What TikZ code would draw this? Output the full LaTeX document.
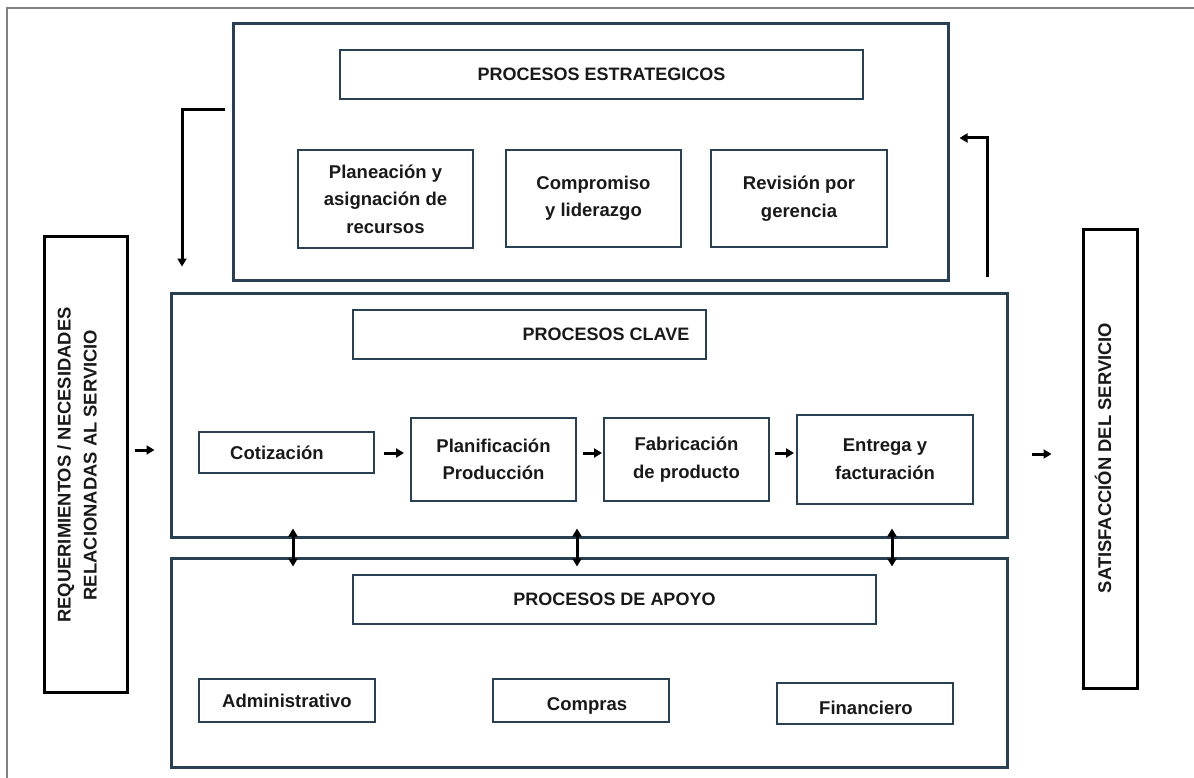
\documentclass[tikz,border=0pt]{standalone}
\usepackage{fontspec}
\setmainfont{Liberation Sans}
\usetikzlibrary{arrows.meta,calc}
\definecolor{bx}{RGB}{40,64,82}
\definecolor{tx}{RGB}{25,25,25}
\definecolor{fr}{RGB}{128,128,128}
\begin{document}
\begin{tikzpicture}[x=1pt,y=-1pt,
  sz/.style 2 args={minimum width=#1pt,minimum height=#2pt},
  bigbox/.style={draw=bx,line width=3pt,inner sep=0pt},
  box/.style={draw=bx,line width=2pt,inner sep=0pt,align=center,text=tx,font=\fontsize{18.5}{27.5}\selectfont\bfseries},
  ttl/.style={box,font=\fontsize{18}{27}\selectfont\bfseries},
  side/.style={draw=black,line width=3pt,inner sep=0pt},
  lbl/.style={inner sep=0pt,align=center,text=tx,font=\fontsize{18.5}{27.5}\selectfont\bfseries},
  tlbl/.style={lbl,font=\fontsize{18}{27}\selectfont\bfseries},
  vlbl/.style={inner sep=0pt,align=center,text=tx,rotate=90,font=\fontsize{18.4}{26}\selectfont\bfseries},
  arr/.style={line width=3pt,-{Triangle[length=8pt,width=9pt]}},
  darr/.style={line width=3pt,{Triangle[length=8pt,width=9pt]}-{Triangle[length=8pt,width=9pt]}}]
\useasboundingbox (0,0) rectangle (1194,778);
% outer frame
\draw[fr,line width=1.5pt] (7,778) -- (7,8) -- (1194,8);

% strategic
\node[bigbox,sz={715}{256}] (estr) at (590.5,152) {};
\node[ttl,sz={523}{49}] (estrT) at (601.5,74.5) {PROCESOS ESTRATEGICOS};
\node[box,sz={175}{98}] (plan) at (385.5,199) {Planeación y\\asignación de\\recursos};
\node[box,sz={175}{97}] (comp) at (593.5,198.5) {Compromiso\\y liderazgo};
\node[box,sz={176}{97}] (rev) at (799,198.5) {Revisión por\\gerencia};

% side boxes
\node[side,sz={83}{455}] (req) at (85.5,464.5) {};
\node[vlbl] (reqT) at (77,465) {REQUERIMIENTOS / NECESIDADES\\RELACIONADAS AL SERVICIO};
\node[side,sz={54}{458}] (sat) at (1110,459) {};
\node[vlbl] (satT) at (1103,458) {SATISFACCIÓN DEL SERVICIO};

% key processes
\node[bigbox,sz={836}{244}] (clave) at (589,415) {};
\node[box,sz={353}{49}] (claveT) at (529.5,334.5) {};
\node[tlbl] (claveL) at (606,334.5) {PROCESOS CLAVE};
\node[box,sz={175}{41}] (cot) at (286.5,452.5) {};
\node[lbl] (cotL) at (277,453) {Cotización};
\node[box,sz={165}{83}] (planif) at (493.5,459.5) {Planificación\\Producción};
\node[box,sz={165}{83}] (fab) at (686.5,459.5) {Fabricación\\de producto};
\node[box,sz={176}{89}] (ent) at (885,459) {Entrega y\\facturación};

% support processes
\node[bigbox,sz={836}{209}] (apoyo) at (589,662.5) {};
\node[ttl,sz={523}{49}] (apoyoT) at (614.5,599.5) {PROCESOS DE APOYO};
\node[box,sz={176}{43}] (adm) at (287,700.5) {Administrativo};
\node[box,sz={176}{43}] (compras) at (581,700.5) {};
\node[lbl] (comprasL) at (587,706) {Compras};
\node[box,sz={176}{41}] (fin) at (865,703.5) {};
\node[lbl] (finL) at (866,708) {Financiero};

% arrows
\draw[arr,shorten <=6pt,shorten >=15pt] (req.east |- 0,450) -- (clave.west |- 0,450);
\draw[arr,shorten <=9pt,shorten >=6pt] (cot.east |- 0,453) -- (planif.west |- 0,453);
\draw[arr,shorten <=6pt,shorten >=1pt] (planif.east |- 0,453) -- (fab.west |- 0,453);
\draw[arr,shorten <=5pt,shorten >=2pt] (fab.east |- 0,453) -- (ent.west |- 0,453);
\draw[arr,shorten <=23pt,shorten >=30pt] (clave.east |- 0,454) -- (sat.west |- 0,454);

\draw[arr,shorten <=7pt,shorten >=25pt] (estr.west |- 0,110) -| (clave.north -| 182,0);
\draw[arr,shorten <=15pt,shorten >=10pt] (clave.north -| 987,0) |- (estr.east |- 0,138);

\draw[darr,shorten <=-10pt,shorten >=-10pt] (clave.south -| 293,0) -- (apoyo.north -| 293,0);
\draw[darr,shorten <=-10pt,shorten >=-10pt] (clave.south -| 577,0) -- (apoyo.north -| 577,0);
\draw[darr,shorten <=-10pt,shorten >=-10pt] (clave.south -| 892,0) -- (apoyo.north -| 892,0);
\end{tikzpicture}
\end{document}
